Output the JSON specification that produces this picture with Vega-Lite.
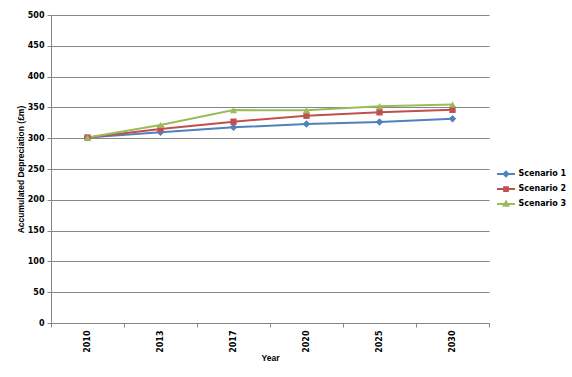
{
  "$schema": "https://vega.github.io/schema/vega-lite/v6.json",
  "width": 438,
  "height": 308,
  "autosize": {"type": "none"},
  "padding": {"left": 51, "top": 15, "right": 83, "bottom": 54},
  "background": "white",
  "config": {
    "view": {"stroke": null},
    "font": "DejaVu Sans",
    "axis": {
      "labelFont": "DejaVu Sans", "labelFontWeight": "bold", "labelFontSize": 8, "labelColor": "black",
      "titleFont": "Liberation Sans", "titleFontWeight": "bold", "titleFontSize": 8.5, "titleColor": "black",
      "domainColor": "#868686", "tickColor": "#868686", "gridColor": "#868686", "gridOpacity": 1
    }
  },
  "data": {"values": [
    {"Year": "2010", "Scenario": "Scenario 1", "Value": 301},
    {"Year": "2013", "Scenario": "Scenario 1", "Value": 309.7},
    {"Year": "2017", "Scenario": "Scenario 1", "Value": 317.7},
    {"Year": "2020", "Scenario": "Scenario 1", "Value": 323},
    {"Year": "2025", "Scenario": "Scenario 1", "Value": 326.3},
    {"Year": "2030", "Scenario": "Scenario 1", "Value": 331.6},
    {"Year": "2010", "Scenario": "Scenario 2", "Value": 301},
    {"Year": "2013", "Scenario": "Scenario 2", "Value": 315},
    {"Year": "2017", "Scenario": "Scenario 2", "Value": 326.8},
    {"Year": "2020", "Scenario": "Scenario 2", "Value": 336.5},
    {"Year": "2025", "Scenario": "Scenario 2", "Value": 342},
    {"Year": "2030", "Scenario": "Scenario 2", "Value": 346.1},
    {"Year": "2010", "Scenario": "Scenario 3", "Value": 301},
    {"Year": "2013", "Scenario": "Scenario 3", "Value": 321.5},
    {"Year": "2017", "Scenario": "Scenario 3", "Value": 345.6},
    {"Year": "2020", "Scenario": "Scenario 3", "Value": 345.2},
    {"Year": "2025", "Scenario": "Scenario 3", "Value": 352},
    {"Year": "2030", "Scenario": "Scenario 3", "Value": 354.8}
  ]},
  "encoding": {
    "x": {
      "field": "Year", "type": "ordinal",
      "scale": {"type": "band", "paddingInner": 0, "paddingOuter": 0},
      "axis": {"title": "Year", "labelAngle": -90, "tickBand": "extent", "tickSize": 4, "labelPadding": 3, "titlePadding": 1, "grid": false}
    },
    "y": {
      "field": "Value", "type": "quantitative",
      "scale": {"domain": [0, 500], "nice": false},
      "axis": {"title": "Accumulated Depreciation (£m)", "values": [0, 50, 100, 150, 200, 250, 300, 350, 400, 450, 500], "tickSize": 4, "labelPadding": 3, "titlePadding": 2, "grid": true}
    },
    "color": {
      "field": "Scenario", "type": "nominal",
      "scale": {"domain": ["Scenario 1", "Scenario 2", "Scenario 3"], "range": ["#4F81BD", "#C0504D", "#9BBB59"]},
      "legend": {
        "title": null, "orient": "none", "legendX": 446.5, "legendY": 150.5,
        "labelFont": "DejaVu Sans", "labelFontWeight": "bold", "labelFontSize": 8, "labelColor": "black",
        "symbolSize": 225, "symbolStrokeWidth": 2, "rowPadding": 0, "labelOffset": 4
      }
    }
  },
  "layer": [
    {"mark": {"type": "line", "strokeWidth": 2}},
    {"transform": [{"filter": "datum.Scenario === 'Scenario 1'"}], "mark": {"type": "point", "shape": "diamond", "filled": true, "opacity": 1, "size": 55}},
    {"transform": [{"filter": "datum.Scenario === 'Scenario 2'"}], "mark": {"type": "point", "shape": "square", "filled": true, "opacity": 1, "size": 40}},
    {"transform": [{"filter": "datum.Scenario === 'Scenario 3'"}], "mark": {"type": "point", "shape": "triangle-up", "filled": true, "opacity": 1, "size": 50}},
    {
      "transform": [{"filter": "false"}],
      "mark": {"type": "point", "opacity": 1, "strokeWidth": 2},
      "encoding": {
        "fill": {"field": "Scenario", "type": "nominal", "scale": {"domain": ["Scenario 1", "Scenario 2", "Scenario 3"], "range": ["#4F81BD", "#C0504D", "#9BBB59"]}},
        "stroke": {"field": "Scenario", "type": "nominal", "scale": {"domain": ["Scenario 1", "Scenario 2", "Scenario 3"], "range": ["#4F81BD", "#C0504D", "#9BBB59"]}},
        "shape": {"field": "Scenario", "type": "nominal", "scale": {"domain": ["Scenario 1", "Scenario 2", "Scenario 3"], "range": ["M-1.2,0H1.2M0,-0.3L0.3,0L0,0.3L-0.3,0Z", "M-1.2,0H1.2M-0.25,-0.25H0.25V0.25H-0.25Z", "M-1.2,0H1.2M0,-0.32L0.3,0.22H-0.3Z"]}}
      }
    }
  ]
}
